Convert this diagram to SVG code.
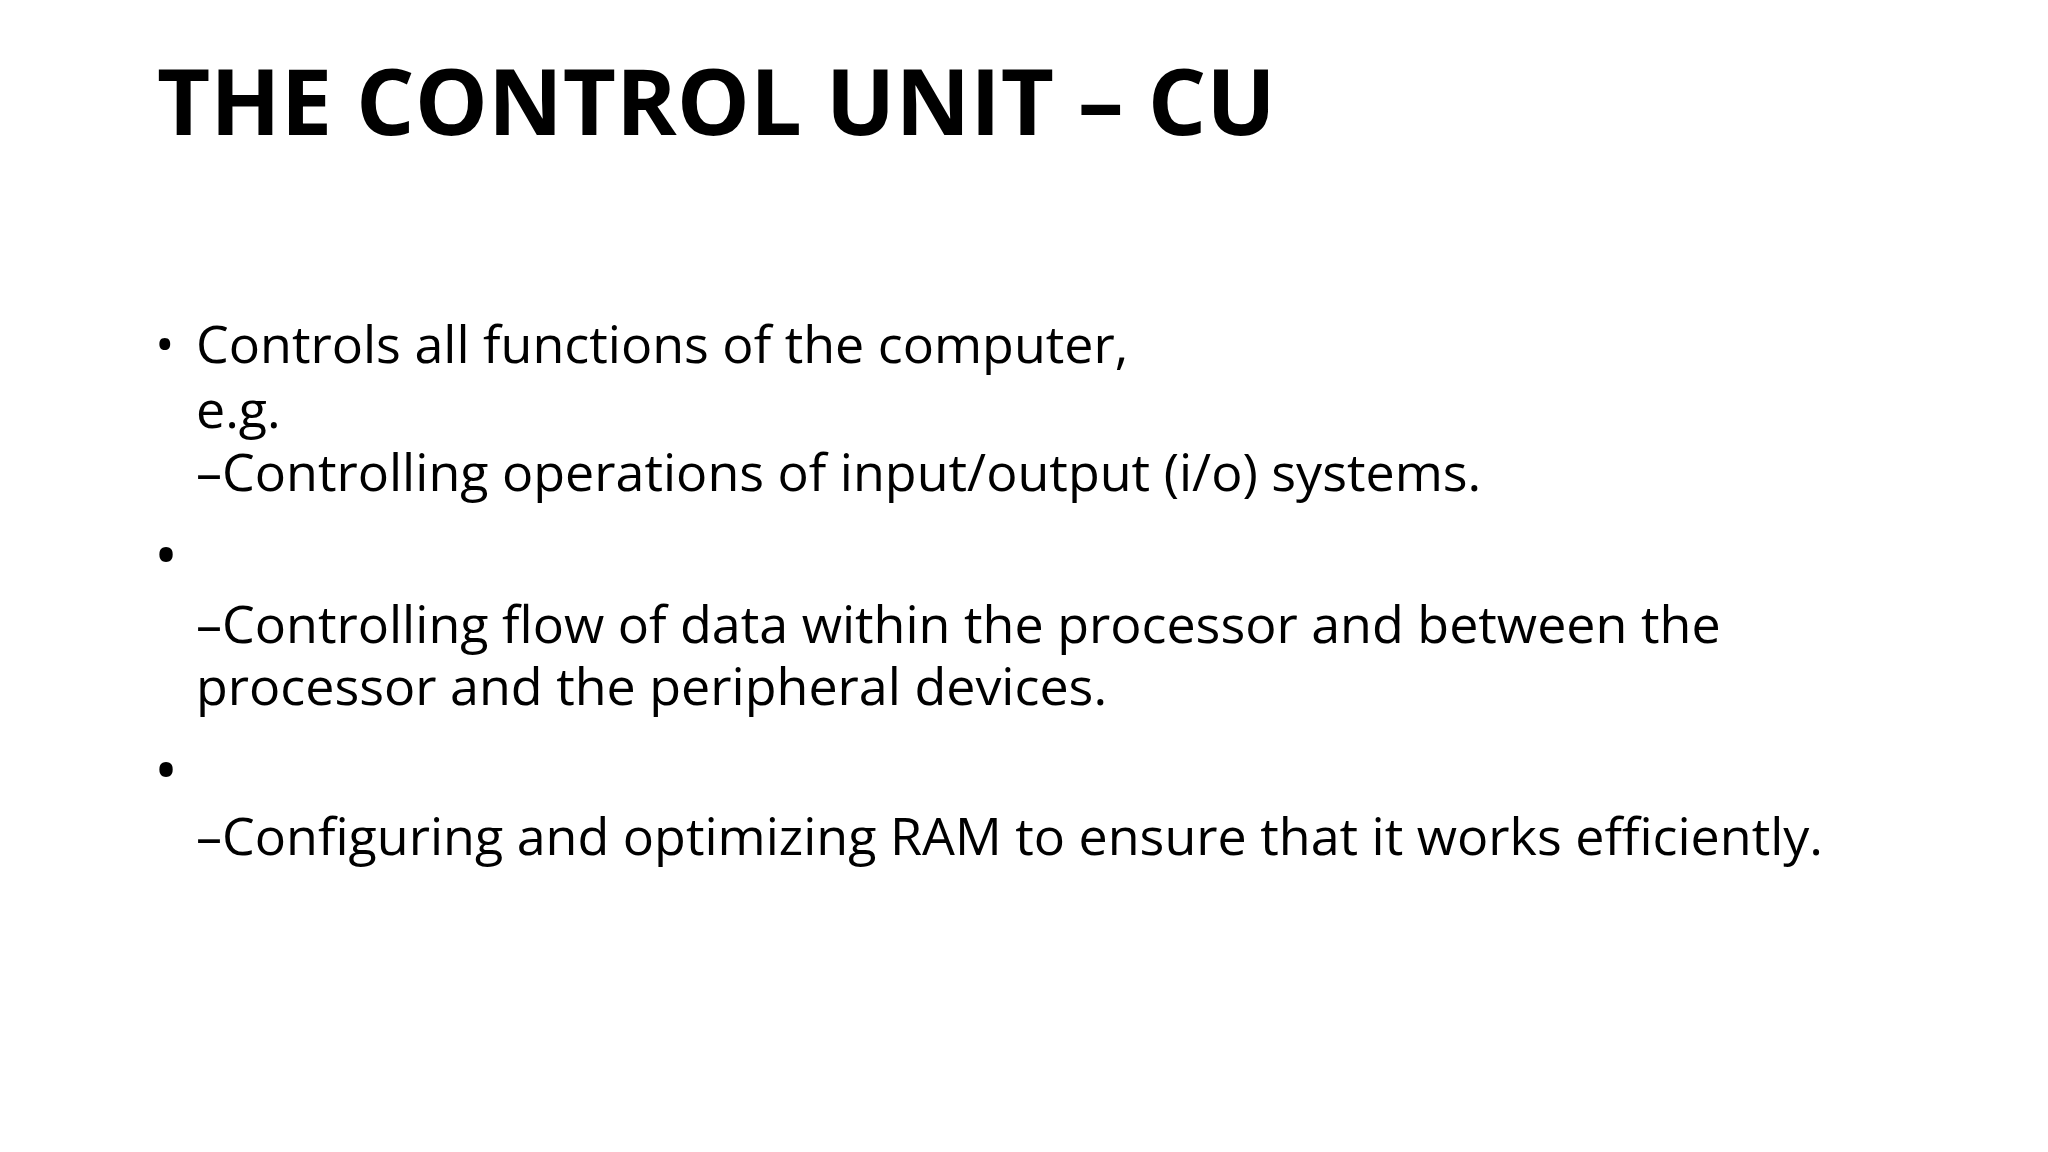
<svg xmlns="http://www.w3.org/2000/svg" width="2048" height="1152" viewBox="0 0 2048 1152">
<style>
.t{font-family:"Open Sans","Noto Sans",sans-serif;font-weight:bold;font-size:92px;fill:#000}
.b{font-family:"Open Sans","Noto Sans",sans-serif;font-size:52px;fill:#000}
.d{font-family:"Open Sans","Noto Sans",sans-serif;font-size:64px;fill:#000}
</style>
<rect width="2048" height="1152" fill="#fff"/>
<g id="title"><text class="t" x="157" y="135">THE CONTROL UNIT – CU</text></g>
<g id="body">
<text class="b" x="155" y="363">•</text>
<text class="b" x="196" y="363">Controls all functions of the computer,</text>
<text class="b" x="196" y="428">e.g.</text>
<text class="b" x="196" y="491">–Controlling operations of input/output (i/o) systems.</text>
<text class="d" x="154" y="578">•</text>
<text class="b" x="196" y="643">–Controlling flow of data within the processor and between the</text>
<text class="b" x="196" y="705">processor and the peripheral devices.</text>
<text class="d" x="154" y="793">•</text>
<text class="b" x="196" y="855">–Configuring and optimizing RAM to ensure that it works efficiently.</text>
</g>
</svg>
